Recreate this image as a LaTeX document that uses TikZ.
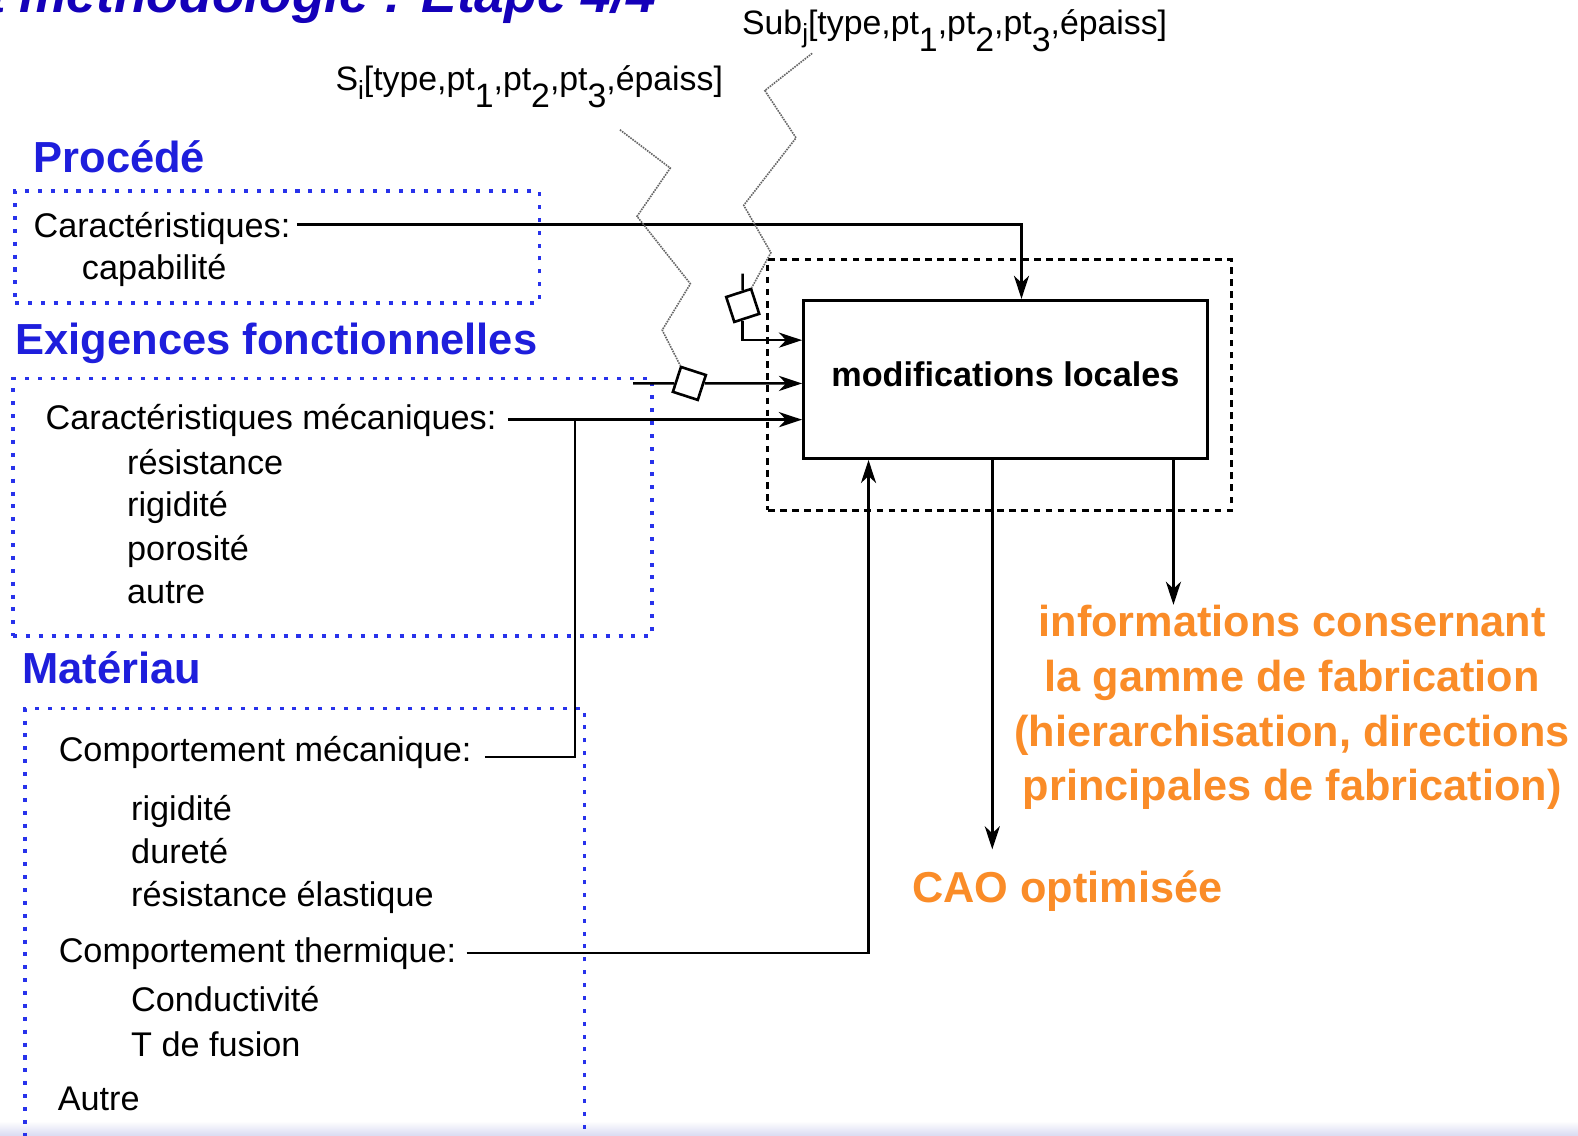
\documentclass[tikz,border=0pt]{standalone}
\usepackage{fontspec}
\setmainfont{Liberation Sans}
\usetikzlibrary{arrows.meta,calc}
\definecolor{hblue}{RGB}{30,30,220}
\definecolor{tblue}{RGB}{20,0,185}
\definecolor{dblue}{RGB}{40,50,235}
\definecolor{orng}{RGB}{250,140,40}
\definecolor{band}{RGB}{218,220,242}
\newcommand\subl[1]{\raisebox{-0.25em}{\fontsize{13}{14}\selectfont #1}}
\newcommand\subd[1]{\raisebox{-0.5em}{#1}}
\begin{document}
\begin{tikzpicture}[x=0.5pt,y=-0.5pt,
 txt/.style={font=\fontsize{17}{20}\selectfont, inner sep=0, anchor=base west},
 head/.style={font=\fontsize{21.6}{25}\selectfont\bfseries, text=hblue, inner sep=0, anchor=base west},
 lbl/.style={font=\fontsize{16.8}{19}\selectfont, inner sep=0, anchor=base west},
 orngtxt/.style={font=\fontsize{21.5}{27.2}\selectfont\bfseries, text=orng, inner sep=0},
 dotbox/.style={draw=dblue, line width=1.7pt, dash pattern=on 2pt off 4.4pt, inner sep=0},
 arr/.style={line width=1.25pt, -{Stealth[length=11.5pt,width=7.5pt,inset=3.5pt]}},
 ln/.style={line width=1.25pt},
 zig/.style={draw=black!60, line width=0.8pt, dash pattern=on 0.8pt off 0.5pt},
 sq/.style={draw, fill=white, line width=1.3pt, minimum size=13pt, inner sep=0},
]
\useasboundingbox (0,0) rectangle (1568,1128);
\clip (0,0) rectangle (1568,1128);
\fill[white] (0,0) rectangle (1568,1128);
\shade[top color=white, bottom color=band] (0,1114) rectangle (1568,1128);

% title (cut off at the top)
\node[font=\fontsize{26.5}{30}\selectfont\bfseries\itshape, text=tblue, inner sep=0, anchor=base east] (title) at (652,12.5) {La méthodologie : Etape 4/4};

% left groups
\node[head] (proc) at (33,171) {Procédé};
\node[dotbox, minimum width=260.5pt, minimum height=55.5pt] (pbox) at (275.5,245.5) {};
\node[txt] (cp) at (33,236) {Caractéristiques:};
\node[txt] (cap) at (81,277.5) {capabilité};

\node[head] (exi) at (15,352.5) {Exigences fonctionnelles};
\node[dotbox, minimum width=317.5pt, minimum height=128pt] (ebox) at (330.5,504) {};
\node[txt] (cm) at (45,426.5) {Caractéristiques mécaniques:};
\node[txt] (r1) at (126,471.5) {résistance};
\node[txt] (r2) at (126,513.5) {rigidité};
\node[txt] (r3) at (126,556.5) {porosité};
\node[txt] (r4) at (126,599.5) {autre};

\node[head] (mat) at (22,679.5) {Matériau};
\node[dotbox, minimum width=278pt, minimum height=238pt] (mbox) at (303,942) {};
\node[txt] (cpm) at (58,756.5) {Comportement mécanique:};
\node[txt] (m1) at (130,815.5) {rigidité};
\node[txt] (m2) at (130,858.5) {dureté};
\node[txt] (m3) at (130,900.5) {résistance élastique};
\node[txt] (cpt) at (58,956.5) {Comportement thermique:};
\node[txt] (t1) at (130,1005.5) {Conductivité};
\node[txt] (t2) at (130,1049.5) {T de fusion};
\node[txt] (aut) at (57,1103) {Autre};

% central block
\node[draw, line width=1.4pt, dash pattern=on 3.3pt off 2.7pt, minimum width=230.5pt, minimum height=124.5pt, inner sep=0] (db) at (993.5,382.5) {};
\node[draw, line width=1.5pt, fill=white, minimum width=200.5pt, minimum height=78.5pt, inner sep=0,
      font=\fontsize{17}{20}\selectfont\bfseries, text depth=5pt] (mb) at (999,377) {modifications locales};

% outputs
\node[orngtxt, align=center] (info) at (1284,703) {informations consernant\\la gamme de fabrication\\(hierarchisation, directions\\principales de fabrication)};
\node[orngtxt, anchor=base west] (cao) at (906,897) {CAO optimisée};

% feature labels
\node[lbl] (si) at (333,90) {S\subl{i}[type,pt\subd{1},pt\subd{2},pt\subd{3},épaiss]};
\node[lbl] (sj) at (737,34) {Sub\subl{j}[type,pt\subd{1},pt\subd{2},pt\subd{3},épaiss]};

% squares
\node[sq, rotate=-18] (s1) at (685,381) {};
\node[sq, rotate=18] (s2) at (738,303.5) {};

% connectors
\coordinate (a1) at ([xshift=3pt,yshift=6.5pt]cp.base east);
\draw[arr] (a1) -| ($(mb.north)+(16,0)$);

\coordinate (a2) at ([xshift=5.5pt,yshift=4.75pt]cm.base east);
\draw[arr] (a2) -- (a2 -| mb.west);

\coordinate (a3) at ([xshift=6.5pt,yshift=2.25pt]cpm.base east);
\coordinate (j1) at (571.5,417);
\draw[ln] (a3) -| (j1);

\coordinate (a4) at ([xshift=5pt,yshift=4.75pt]cpt.base east);
\draw[arr] (a4) -| ($(mb.south)+(-136,0)$);

\coordinate (a5) at (629,381);
\draw[ln] (a5) -- (s1);
\draw[arr] (s1) -- (s1 -| mb.west);

\coordinate (tk) at (738,272);
\draw[ln] (tk) -- (s2);
\draw[arr] (s2) |- ($(mb.west)+(0,-39)$);

\coordinate (e7) at (986,844);
\draw[arr] ($(mb.south)+(-13,0)$) -- (e7);
\coordinate (e8) at (1166,601);
\draw[arr] ($(mb.south)+(167,0)$) -- (e8);

% zigzag leaders
\coordinate (z1) at (616,129);
\draw[zig] (z1) -- (666,167) -- (633,215) -- (686,282) -- (658,328) -- (s1.north west);
\coordinate (z2) at (807,53);
\draw[zig] (z2) -- (760,90) -- (791,137) -- (739,204) -- (766,251) -- (s2.north east);
\end{tikzpicture}
\end{document}
